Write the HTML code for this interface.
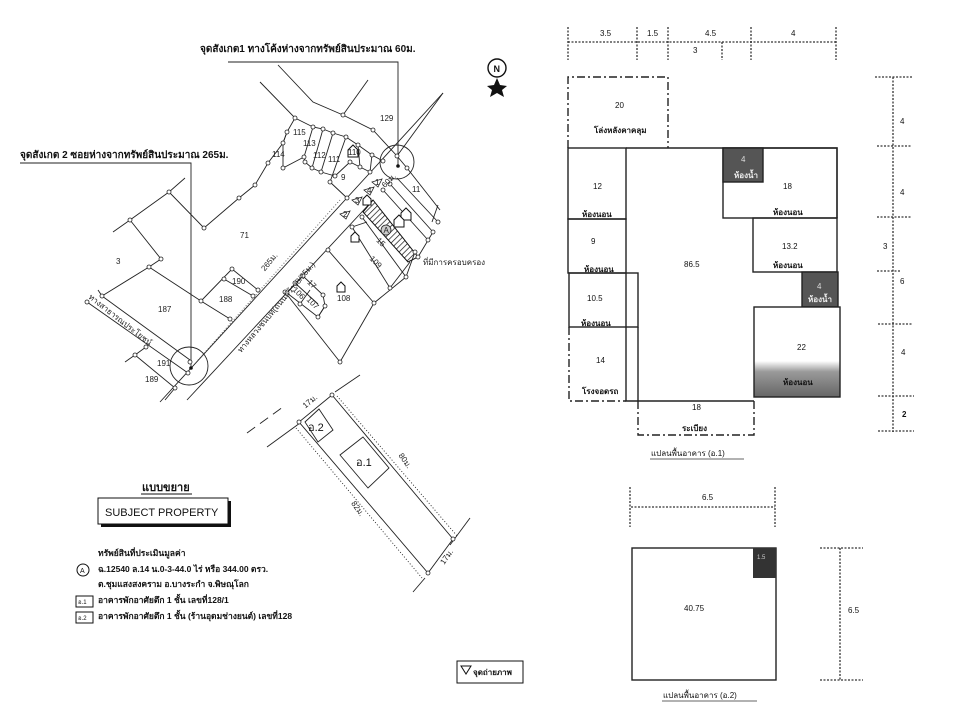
<!DOCTYPE html>
<html><head><meta charset="utf-8"><style>
html,body{margin:0;padding:0;background:#fff;}
svg{display:block;font-family:"Liberation Sans","DejaVu Sans",sans-serif;}
.t{font-size:9px;fill:#111}
.th{font-size:10px;fill:#111;font-weight:bold}
.s{font-size:8px;fill:#222}
</style></head><body>
<svg width="960" height="720" viewBox="0 0 960 720" xmlns="http://www.w3.org/2000/svg">
<defs>
<pattern id="hatch" width="4" height="4" patternUnits="userSpaceOnUse" patternTransform="rotate(45)">
<line x1="0" y1="0" x2="0" y2="4" stroke="#111" stroke-width="1.4"/></pattern>
<linearGradient id="gr" x1="0" y1="0" x2="0" y2="1"><stop offset="0" stop-color="#fff"/><stop offset="0.6" stop-color="#fff"/><stop offset="0.72" stop-color="#999"/><stop offset="1" stop-color="#666"/></linearGradient>
</defs>
<rect width="960" height="720" fill="#fff"/>

<g stroke="#222" stroke-width="0.9" fill="none">
<polyline points="228,62 398,62 398,165"/>
<polyline points="20,163 191,163 191,368"/>
<line x1="160" y1="402" x2="443" y2="93"/>
<line x1="187" y1="400" x2="373" y2="200"/>
<polyline points="278,65 313,102 343,115 373,130 397,156 407,168"/>
<line x1="368" y1="80" x2="343" y2="115"/>
<line x1="443" y1="93" x2="397" y2="156"/>
<polyline points="260,82 295,118 313,127 323,129 333,133 346,137 358,145 372,155 383,161"/>
<polyline points="295,118 287,132 283,143 268,163 255,185 239,198 204,228 169,192 185,178"/>
<polyline points="287,132 283,143 283,168 304,157"/>
<polyline points="313,127 304,157 305,162 312,168 321,172"/>
<line x1="323" y1="129" x2="312" y2="168"/>
<line x1="333" y1="133" x2="321" y2="172"/>
<line x1="346" y1="137" x2="330" y2="182"/>
<line x1="321" y1="172" x2="335" y2="176"/>
<line x1="358" y1="145" x2="360" y2="167"/>
<line x1="350" y1="162" x2="370" y2="172"/>
<line x1="372" y1="155" x2="370" y2="172"/>
<line x1="330" y1="182" x2="347" y2="198"/>
<line x1="335" y1="176" x2="350" y2="162"/>
<polyline points="169,192 130,220 113,232"/>
<polyline points="130,220 161,259 149,267 102,296"/>
<polyline points="149,267 201,301 230,319"/>
<polyline points="201,301 232,269 258,290"/>
<line x1="224" y1="279" x2="253" y2="296"/>
<line x1="102" y1="296" x2="98" y2="290"/>
<line x1="87" y1="302" x2="188" y2="373"/>
<line x1="102" y1="296" x2="190" y2="360"/>
<polyline points="125,362 135,355 146,347"/>
<line x1="135" y1="355" x2="175" y2="388"/>
<line x1="175" y1="388" x2="165" y2="400"/>
<line x1="285" y1="292" x2="340" y2="362"/>
<line x1="328" y1="250" x2="374" y2="303"/>
<line x1="340" y1="362" x2="374" y2="303"/>
<line x1="352" y1="227" x2="390" y2="288"/>
<line x1="362" y1="217" x2="406" y2="277"/>
<line x1="374" y1="303" x2="406" y2="277"/>
<line x1="406" y1="277" x2="415" y2="252"/>
<line x1="367" y1="222" x2="352" y2="227"/>
<line x1="390" y1="288" x2="410" y2="262"/>
<polyline points="287,293 303,276 323,295 325,306 318,317 287,293"/>
<line x1="295" y1="283" x2="318" y2="304"/>
<line x1="300" y1="304" x2="310" y2="290"/>
<line x1="318" y1="317" x2="325" y2="306"/>
<line x1="383" y1="190" x2="428" y2="240"/>
<line x1="390" y1="184" x2="433" y2="232"/>
<line x1="397" y1="178" x2="438" y2="222"/>
<line x1="407" y1="168" x2="440" y2="210"/>
<line x1="438" y1="205" x2="432" y2="222"/>
<line x1="418" y1="257" x2="433" y2="232"/>
<circle cx="397" cy="162" r="17"/>
<circle cx="189" cy="366" r="19"/>
<line x1="198" y1="360" x2="340" y2="200" stroke-dasharray="1,2" stroke="#555"/>
</g>
<polygon points="363,212 373,200 418,257 408,262" fill="url(#hatch)" stroke="#111" stroke-width="1"/>
<circle cx="386" cy="230" r="5" fill="#ccc" stroke="#222" stroke-width="0.8"/>
<text x="383.5" y="233" class="s" font-size="7">A</text>
<g fill="#fff" stroke="#222" stroke-width="0.8">
<circle cx="295" cy="118" r="2"/><circle cx="313" cy="127" r="2"/><circle cx="323" cy="129" r="2"/><circle cx="333" cy="133" r="2"/><circle cx="346" cy="137" r="2"/><circle cx="358" cy="145" r="2"/><circle cx="372" cy="155" r="2"/>
<circle cx="287" cy="132" r="2"/><circle cx="283" cy="143" r="2"/><circle cx="268" cy="163" r="2"/><circle cx="283" cy="168" r="2"/><circle cx="304" cy="157" r="2"/><circle cx="305" cy="162" r="2"/><circle cx="312" cy="168" r="2"/><circle cx="321" cy="172" r="2"/><circle cx="335" cy="176" r="2"/><circle cx="330" cy="182" r="2"/><circle cx="350" cy="162" r="2"/><circle cx="360" cy="167" r="2"/><circle cx="370" cy="172" r="2"/>
<circle cx="343" cy="115" r="2"/><circle cx="373" cy="130" r="2"/><circle cx="397" cy="156" r="2"/><circle cx="383" cy="161" r="2"/><circle cx="407" cy="168" r="2"/>
<circle cx="255" cy="185" r="2"/><circle cx="239" cy="198" r="2"/><circle cx="204" cy="228" r="2"/><circle cx="169" cy="192" r="2"/><circle cx="130" cy="220" r="2"/><circle cx="161" cy="259" r="2"/><circle cx="149" cy="267" r="2"/><circle cx="102" cy="296" r="2"/><circle cx="201" cy="301" r="2"/><circle cx="230" cy="319" r="2"/>
<circle cx="224" cy="279" r="2"/><circle cx="232" cy="269" r="2"/><circle cx="258" cy="290" r="2"/><circle cx="253" cy="296" r="2"/>
<circle cx="87" cy="302" r="2"/><circle cx="135" cy="355" r="2"/><circle cx="146" cy="347" r="2"/><circle cx="175" cy="388" r="2"/><circle cx="188" cy="373" r="2"/><circle cx="190" cy="362" r="2"/>
<circle cx="285" cy="292" r="2"/><circle cx="328" cy="250" r="2"/><circle cx="340" cy="362" r="2"/><circle cx="374" cy="303" r="2"/><circle cx="390" cy="288" r="2"/><circle cx="406" cy="277" r="2"/><circle cx="415" cy="252" r="2"/><circle cx="352" cy="227" r="2"/><circle cx="362" cy="217" r="2"/><circle cx="347" cy="198" r="2"/>
<circle cx="303" cy="276" r="2"/><circle cx="295" cy="283" r="2"/><circle cx="287" cy="293" r="2"/><circle cx="323" cy="295" r="2"/><circle cx="325" cy="306" r="2"/><circle cx="318" cy="317" r="2"/><circle cx="300" cy="304" r="2"/>
<circle cx="383" cy="190" r="2"/><circle cx="390" cy="184" r="2"/><circle cx="428" cy="240" r="2"/><circle cx="433" cy="232" r="2"/><circle cx="438" cy="222" r="2"/><circle cx="418" cy="257" r="2"/>
</g>
<circle cx="398" cy="166" r="1.8" fill="#111"/><circle cx="191" cy="368" r="1.8" fill="#111"/>
<g fill="#fff" stroke="#111" stroke-width="1">
<path d="M348,150 l5,-5 l5,5 v7 h-10z"/><path d="M401,213 l5,-5 l5,5 v7 h-10z"/><path d="M394,220 l5,-5 l5,5 v7 h-10z"/><path d="M363,199 l4,-4 l4,4 v6 h-8z"/><path d="M351,236 l4,-4 l4,4 v6 h-8z"/><path d="M337,286 l4,-4 l4,4 v6 h-8z"/>
</g>
<g fill="none" stroke="#222" stroke-width="0.8">
<path d="M340,214 l10,-3 l-4,8z"/><path d="M352,200 l10,-3 l-4,8z"/><path d="M364,190 l10,-3 l-4,8z"/><path d="M372,182 l10,-3 l-4,8z"/>
</g>
<g class="s" font-size="6"><text x="343" y="217">2</text><text x="355" y="203">3</text><text x="367" y="193">4</text><text x="375" y="185">1</text></g>
<text x="200" y="52" class="th" font-size="9">จุดสังเกต1 ทางโค้งห่างจากทรัพย์สินประมาณ 60ม.</text>
<text x="20" y="158" class="th" font-size="9">จุดสังเกต 2 ซอยห่างจากทรัพย์สินประมาณ 265ม.</text>
<g class="s">
<text x="380" y="121">129</text><text x="293" y="135">115</text><text x="303" y="146">113</text><text x="313" y="158">112</text><text x="328" y="162">111</text><text x="348" y="155">110</text><text x="272" y="157">114</text><text x="341" y="180">9</text><text x="412" y="192">11</text><text x="240" y="238">71</text><text x="116" y="264">3</text><text x="158" y="312">187</text><text x="219" y="302">188</text><text x="232" y="284">190</text><text x="157" y="366">191</text><text x="145" y="382">189</text><text x="337" y="301">108</text><text x="423" y="265">ที่มีการครอบครอง</text>
<text x="375" y="243" transform="rotate(45 378 243)">15</text>
<text x="368" y="262" transform="rotate(45 372 262)">109</text>
<text x="306" y="285" transform="rotate(45 309 285)">17</text>
<text x="291" y="293" transform="rotate(45 295 293)">106</text>
<text x="305" y="303" transform="rotate(45 309 303)">107</text>
<text x="264" y="270" transform="rotate(-50 266 270)">265ม.</text>
<text x="384" y="186" transform="rotate(-45 387 186)">60ม.</text>
<text x="200" y="335" transform="rotate(-50 240 300)">ทางหลวงชนบท(ถนนกว้าง8/25ม.)</text>
<text x="88" y="298" transform="rotate(38 88 298)">ทางสาธารณประโยชน์</text>
</g>
<circle cx="497" cy="68" r="9" fill="#fff" stroke="#111" stroke-width="1.4"/>
<text x="493.5" y="72" font-size="9" font-weight="bold" fill="#111">N</text>
<path d="M497,78 l3,7 l7,1 l-5,4 l2,7 l-7,-4 l-7,4 l2,-7 l-5,-4 l7,-1z" fill="#111"/>

<g stroke="#222" stroke-width="0.9" fill="none">
<line x1="247" y1="433" x2="283" y2="407" stroke-dasharray="10,6"/>
<line x1="267" y1="447" x2="300" y2="423"/>
<line x1="335" y1="392" x2="360" y2="375"/>
<line x1="450" y1="545" x2="470" y2="518"/>
<line x1="425" y1="578" x2="413" y2="592"/>
<polygon points="332,395 299,422 428,573 453,539"/>
<polygon points="319,409 333,430 318,442 305,422"/>
<polygon points="363,437 389,468 368,488 340,455"/>
<line x1="337" y1="396" x2="458" y2="537" stroke-dasharray="1,2"/>
<line x1="296" y1="428" x2="422" y2="578" stroke-dasharray="1,2"/>
</g>
<g fill="#fff" stroke="#222" stroke-width="0.8"><circle cx="332" cy="395" r="2"/><circle cx="299" cy="422" r="2"/><circle cx="428" cy="573" r="2"/><circle cx="453" cy="539" r="2"/></g>
<text x="308" y="431" font-size="11" fill="#111">อ.2</text>
<text x="356" y="466" font-size="11" fill="#111">อ.1</text>
<g class="s" font-size="7">
<text x="303" y="408" transform="rotate(-40 305 405)">17ม.</text>
<text x="397" y="458" transform="rotate(55 400 458)">80ม.</text>
<text x="350" y="505" transform="rotate(55 352 505)">82ม.</text>
<text x="442" y="563" transform="rotate(-55 445 562)">17ม.</text>
</g>
<text x="142" y="491" font-size="11" font-weight="bold" fill="#111">แบบขยาย</text>
<line x1="141" y1="494" x2="192" y2="494" stroke="#111"/>
<rect x="101" y="501" width="130" height="26" fill="#111"/>
<rect x="98" y="498" width="130" height="26" fill="#fff" stroke="#111"/>
<text x="105" y="516" font-size="11" fill="#111">SUBJECT  PROPERTY</text>
<g font-size="8.5" fill="#111" font-weight="bold">
<text x="98" y="556">ทรัพย์สินที่ประเมินมูลค่า</text>
<text x="98" y="572">ฉ.12540 ล.14 น.0-3-44.0 ไร่ หรือ 344.00 ตรว.</text>
<text x="98" y="587">ต.ชุมแสงสงคราม  อ.บางระกำ  จ.พิษณุโลก</text>
<text x="98" y="603">อาคารพักอาศัยตึก 1 ชั้น เลขที่128/1</text>
<text x="98" y="619">อาคารพักอาศัยตึก 1 ชั้น (ร้านอุดมช่างยนต์) เลขที่128</text>
</g>
<circle cx="83" cy="570" r="6" fill="#fff" stroke="#111"/><text x="80" y="573" font-size="7" fill="#111">A</text>
<rect x="76" y="596" width="17" height="11" fill="#fff" stroke="#111"/><text x="78" y="604" font-size="6" fill="#111">อ.1</text>
<rect x="76" y="612" width="17" height="11" fill="#fff" stroke="#111"/><text x="78" y="620" font-size="6" fill="#111">อ.2</text>
<rect x="457" y="661" width="66" height="22" fill="#fff" stroke="#111"/>
<path d="M461,666 l10,0 l-5,8z" fill="none" stroke="#111"/>
<text x="473" y="675" font-size="8" fill="#111" font-weight="bold">จุดถ่ายภาพ</text>

<g stroke="#333" stroke-width="1.3" fill="none" stroke-dasharray="2,1.5">
<line x1="568" y1="42" x2="837" y2="42"/>
<line x1="568" y1="27" x2="568" y2="60"/><line x1="637" y1="27" x2="637" y2="60"/><line x1="668" y1="27" x2="668" y2="60"/><line x1="751" y1="27" x2="751" y2="60"/><line x1="836" y1="27" x2="836" y2="60"/><line x1="722" y1="42" x2="722" y2="60"/>
<line x1="893" y1="77" x2="893" y2="432"/>
<line x1="875" y1="77" x2="912" y2="77"/><line x1="877" y1="146" x2="912" y2="146"/><line x1="877" y1="217" x2="912" y2="217"/><line x1="877" y1="271" x2="900" y2="271"/><line x1="878" y1="324" x2="913" y2="324"/><line x1="878" y1="396" x2="914" y2="396"/><line x1="878" y1="431" x2="914" y2="431"/>
</g>
<g stroke="#222" stroke-width="1.4" fill="none" stroke-dasharray="8,3,2,3">
<polyline points="568,148 568,77 668,77 668,148"/>
<polyline points="569,327 569,401 626,401"/>
<polyline points="638,401 638,435 754,435 754,401"/>
</g>
<g stroke="#222" stroke-width="1.4" fill="none">
<rect x="568" y="148" width="58" height="71"/>
<rect x="568" y="219" width="58" height="54"/>
<rect x="569" y="273" width="69" height="54"/>
<line x1="638" y1="327" x2="638" y2="401"/>
<polyline points="626,148 837,148 837,218"/>
<polyline points="626,273 626,401 754,401"/>
<rect x="723" y="148" width="114" height="70"/>
<rect x="753" y="218" width="84" height="54"/>
</g>
<rect x="723" y="148" width="40" height="34" fill="#555" stroke="#222" stroke-width="1.4"/>
<rect x="802" y="272" width="36" height="35" fill="#555" stroke="#222" stroke-width="1.4"/>
<rect x="754" y="307" width="86" height="90" fill="url(#gr)" stroke="#222" stroke-width="1.4"/>
<g font-size="8" fill="#111" font-family="Liberation Sans, sans-serif">
<text x="600" y="36">3.5</text><text x="647" y="36">1.5</text><text x="705" y="36">4.5</text><text x="791" y="36">4</text><text x="693" y="53">3</text>
<text x="615" y="108">20</text><text x="594" y="133" font-weight="bold">โล่งหลังคาคลุม</text>
<text x="593" y="189">12</text><text x="582" y="217" font-weight="bold">ห้องนอน</text>
<text x="591" y="244">9</text><text x="584" y="272" font-weight="bold">ห้องนอน</text>
<text x="587" y="301">10.5</text><text x="581" y="326" font-weight="bold">ห้องนอน</text>
<text x="596" y="363">14</text><text x="582" y="394" font-weight="bold">โรงจอดรถ</text>
<text x="684" y="267">86.5</text>
<text x="741" y="162" fill="#ddd">4</text><text x="734" y="178" font-weight="bold" fill="#eee">ห้องน้ำ</text>
<text x="783" y="189">18</text><text x="773" y="215" font-weight="bold">ห้องนอน</text>
<text x="782" y="249">13.2</text><text x="773" y="268" font-weight="bold">ห้องนอน</text>
<text x="817" y="289" fill="#ddd">4</text><text x="808" y="302" font-weight="bold" fill="#eee">ห้องน้ำ</text>
<text x="797" y="350">22</text><text x="783" y="385" font-weight="bold">ห้องนอน</text>
<text x="692" y="410">18</text><text x="682" y="431" font-weight="bold">ระเบียง</text>
<text x="900" y="124">4</text><text x="900" y="195">4</text><text x="883" y="249">3</text><text x="900" y="284">6</text><text x="901" y="355">4</text><text x="902" y="417" font-weight="bold">2</text>
<text x="651" y="456">แปลนพื้นอาคาร (อ.1)</text>
</g>
<line x1="650" y1="459" x2="744" y2="459" stroke="#333" stroke-width="0.8"/>

<g stroke="#333" stroke-width="1.3" fill="none" stroke-dasharray="2,1.5">
<line x1="631" y1="507" x2="775" y2="507"/>
<line x1="630" y1="487" x2="630" y2="527"/><line x1="775" y1="487" x2="775" y2="527"/>
<line x1="840" y1="548" x2="840" y2="680"/>
<line x1="820" y1="548" x2="863" y2="548"/><line x1="820" y1="680" x2="863" y2="680"/>
</g>
<rect x="632" y="548" width="144" height="132" fill="#fff" stroke="#222" stroke-width="1.4"/>
<rect x="753" y="548" width="23" height="30" fill="#333"/>
<g font-size="8" fill="#111">
<text x="702" y="500">6.5</text><text x="684" y="611">40.75</text><text x="848" y="613">6.5</text>
<text x="757" y="559" fill="#ccc" font-size="6">1.5</text>
<text x="663" y="698">แปลนพื้นอาคาร (อ.2)</text>
</g>
<line x1="662" y1="701" x2="757" y2="701" stroke="#333" stroke-width="0.8"/>
</svg>
</body></html>
